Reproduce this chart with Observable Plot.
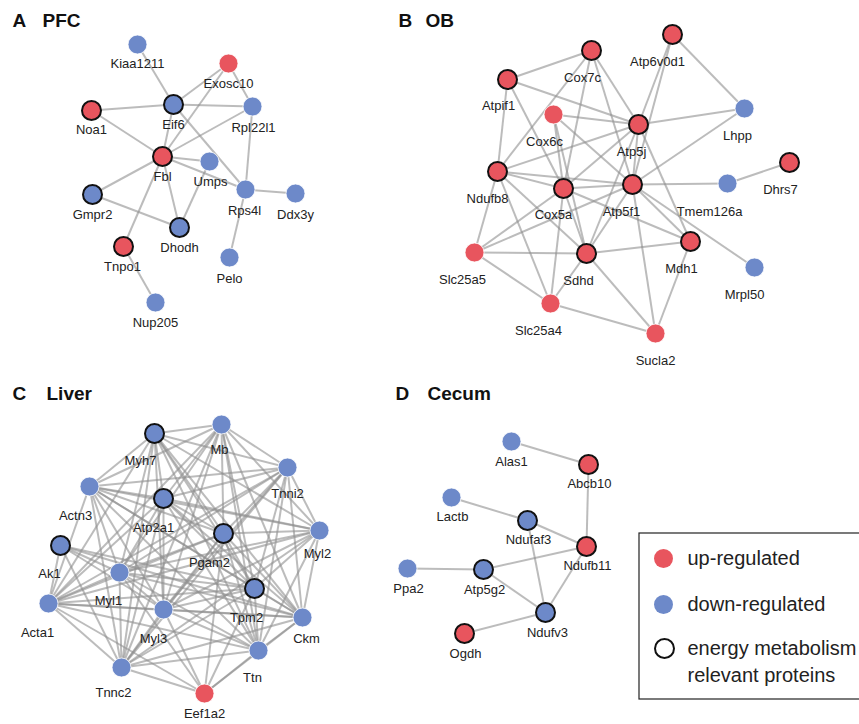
<!DOCTYPE html>
<html><head><meta charset="utf-8">
<script src="https://cdn.jsdelivr.net/npm/d3@7"></script>
<script src="https://cdn.jsdelivr.net/npm/@observablehq/plot@0.6"></script>
<style>body{margin:0;background:#fff;} svg{display:block}</style>
</head><body><div id="chart"></div>
<script>
// Node tables: [name, x, y, regulation, energy-relevant, labelX, labelY] (layout units)
const nodesPFC = [
  ["Kiaa1211",137,44,"down",false,137,63],
  ["Exosc10",228,63,"up",false,228,83],
  ["Noa1",91,110,"up",true,91,129],
  ["Eif6",173,104,"down",true,173,124],
  ["Rpl22l1",252,106,"down",false,253,127],
  ["Fbl",162,156,"up",true,162,176],
  ["Umps",209,161,"down",false,210,181],
  ["Rps4l",245,189,"down",false,244,210],
  ["Ddx3y",295,193,"down",false,295,214],
  ["Gmpr2",92,194,"down",true,92,214],
  ["Dhodh",179,227,"down",true,179,247],
  ["Tnpo1",123,246,"up",true,122,266],
  ["Pelo",229,257,"down",false,229,278],
  ["Nup205",155,302,"down",false,155,322]
];
const edgesPFC = [
  ["Kiaa1211","Eif6"],["Exosc10","Eif6"],["Exosc10","Rpl22l1"],["Exosc10","Fbl"],
  ["Noa1","Eif6"],["Noa1","Fbl"],["Eif6","Rpl22l1"],["Eif6","Fbl"],["Eif6","Rps4l"],
  ["Fbl","Rpl22l1"],["Fbl","Umps"],["Fbl","Rps4l"],["Fbl","Gmpr2"],["Fbl","Dhodh"],
  ["Fbl","Tnpo1"],["Umps","Dhodh"],["Gmpr2","Dhodh"],["Rpl22l1","Rps4l"],
  ["Rps4l","Ddx3y"],["Rps4l","Pelo"],["Tnpo1","Nup205"]
];

const nodesOB = [
  ["Atp6v0d1",672,34,"up",true,657,61],
  ["Cox7c",591,50,"up",true,582,77],
  ["Atpif1",507,79,"up",true,498,105],
  ["Cox6c",553,114,"up",false,544,141],
  ["Atp5j",638,124,"up",true,631,151],
  ["Lhpp",744,108,"down",false,737,135],
  ["Dhrs7",789,162,"up",true,780,189],
  ["Ndufb8",497,171,"up",true,487,198],
  ["Cox5a",563,188,"up",true,553,214],
  ["Atp5f1",632,184,"up",true,621,211],
  ["Tmem126a",727,183,"down",false,709,211],
  ["Slc25a5",474,252,"up",false,462,279],
  ["Sdhd",586,253,"up",true,578,280],
  ["Mdh1",690,241,"up",true,681,268],
  ["Mrpl50",754,267,"down",false,744,294],
  ["Slc25a4",550,303,"up",false,538,330],
  ["Sucla2",655,333,"up",false,655,360]
];
const edgesOB = [
  ["Atpif1","Cox7c"],["Atpif1","Atp5j"],["Atpif1","Ndufb8"],["Atpif1","Cox5a"],
  ["Cox7c","Ndufb8"],["Cox7c","Cox5a"],["Cox7c","Atp5j"],["Cox7c","Atp5f1"],
  ["Atp6v0d1","Atp5j"],["Atp6v0d1","Atp5f1"],["Atp6v0d1","Lhpp"],
  ["Lhpp","Atp5j"],["Lhpp","Atp5f1"],
  ["Cox6c","Atp5j"],["Cox6c","Cox5a"],["Cox6c","Atp5f1"],["Cox6c","Sdhd"],
  ["Ndufb8","Atp5j"],["Ndufb8","Cox5a"],["Ndufb8","Atp5f1"],["Ndufb8","Slc25a5"],
  ["Ndufb8","Slc25a4"],["Ndufb8","Sdhd"],
  ["Cox5a","Atp5j"],["Cox5a","Atp5f1"],["Cox5a","Sdhd"],["Cox5a","Slc25a5"],
  ["Cox5a","Slc25a4"],["Cox5a","Mdh1"],
  ["Atp5j","Atp5f1"],["Atp5j","Sdhd"],["Atp5j","Mdh1"],
  ["Atp5f1","Sdhd"],["Atp5f1","Mdh1"],["Atp5f1","Tmem126a"],["Atp5f1","Mrpl50"],
  ["Atp5f1","Slc25a5"],["Atp5f1","Sucla2"],
  ["Tmem126a","Dhrs7"],
  ["Sdhd","Slc25a5"],["Sdhd","Mdh1"],["Sdhd","Sucla2"],["Sdhd","Slc25a4"],
  ["Slc25a5","Slc25a4"],["Slc25a4","Sucla2"],["Mdh1","Sucla2"]
];

const nodesLiver = [
  ["Myh7",154,433,"down",true,140,460],
  ["Mb",221,424,"down",false,219,449],
  ["Tnni2",287,467,"down",false,287,493],
  ["Actn3",89,486,"down",false,75,515],
  ["Atp2a1",163,498,"down",true,153,527],
  ["Pgam2",223,533,"down",true,209,562],
  ["Myl2",319,530,"down",false,317,553],
  ["Ak1",60,545,"down",true,49,573],
  ["Myl1",119,572,"down",false,108,600],
  ["Tpm2",254,588,"down",true,246,617],
  ["Acta1",48,603,"down",false,37,632],
  ["Myl3",163,609,"down",false,153,638],
  ["Ckm",302,617,"down",false,306,638],
  ["Ttn",258,650,"down",false,252,677],
  ["Tnnc2",121,667,"down",false,113,692],
  ["Eef1a2",204,693,"up",false,204,713]
];
const edgesLiver = [
  ["Myh7","Mb"],["Myh7","Tnni2"],["Myh7","Actn3"],["Myh7","Atp2a1"],["Myh7","Pgam2"],["Myh7","Myl2"],["Myh7","Myl1"],["Myh7","Tpm2"],["Myh7","Acta1"],["Myh7","Myl3"],["Myh7","Ckm"],["Myh7","Ttn"],["Myh7","Tnnc2"],
  ["Mb","Tnni2"],["Mb","Actn3"],["Mb","Atp2a1"],["Mb","Pgam2"],["Mb","Myl2"],["Mb","Myl1"],["Mb","Tpm2"],["Mb","Acta1"],["Mb","Myl3"],["Mb","Ckm"],["Mb","Ttn"],["Mb","Tnnc2"],
  ["Tnni2","Actn3"],["Tnni2","Atp2a1"],["Tnni2","Pgam2"],["Tnni2","Myl2"],["Tnni2","Myl1"],["Tnni2","Tpm2"],["Tnni2","Acta1"],["Tnni2","Myl3"],["Tnni2","Ckm"],["Tnni2","Ttn"],["Tnni2","Tnnc2"],
  ["Actn3","Atp2a1"],["Actn3","Pgam2"],["Actn3","Myl2"],["Actn3","Myl1"],["Actn3","Tpm2"],["Actn3","Acta1"],["Actn3","Myl3"],["Actn3","Ckm"],["Actn3","Ttn"],["Actn3","Tnnc2"],
  ["Atp2a1","Pgam2"],["Atp2a1","Myl2"],["Atp2a1","Myl1"],["Atp2a1","Tpm2"],["Atp2a1","Acta1"],["Atp2a1","Myl3"],["Atp2a1","Ckm"],["Atp2a1","Ttn"],["Atp2a1","Tnnc2"],
  ["Pgam2","Myl2"],["Pgam2","Myl1"],["Pgam2","Tpm2"],["Pgam2","Acta1"],["Pgam2","Myl3"],["Pgam2","Ckm"],["Pgam2","Ttn"],["Pgam2","Tnnc2"],
  ["Myl2","Myl1"],["Myl2","Tpm2"],["Myl2","Acta1"],["Myl2","Myl3"],["Myl2","Ckm"],["Myl2","Ttn"],["Myl2","Tnnc2"],
  ["Ak1","Myl1"],["Ak1","Tpm2"],["Ak1","Acta1"],["Ak1","Tnnc2"],["Ak1","Ckm"],["Ak1","Myl3"],
  ["Myl1","Tpm2"],["Myl1","Acta1"],["Myl1","Myl3"],["Myl1","Ckm"],["Myl1","Ttn"],["Myl1","Tnnc2"],
  ["Tpm2","Acta1"],["Tpm2","Myl3"],["Tpm2","Ckm"],["Tpm2","Ttn"],["Tpm2","Tnnc2"],
  ["Acta1","Myl3"],["Acta1","Ckm"],["Acta1","Ttn"],["Acta1","Tnnc2"],
  ["Myl3","Ckm"],["Myl3","Ttn"],["Myl3","Tnnc2"],
  ["Ckm","Ttn"],["Ckm","Tnnc2"],["Ttn","Tnnc2"],
  ["Eef1a2","Ttn"],["Eef1a2","Tnnc2"],["Eef1a2","Myl3"],["Eef1a2","Myl1"],["Eef1a2","Tpm2"],["Eef1a2","Ckm"],["Eef1a2","Pgam2"],["Eef1a2","Acta1"]
];

const nodesCecum = [
  ["Alas1",511,441,"down",false,511,461],
  ["Abcb10",588,464,"up",true,589,483],
  ["Lactb",451,497,"down",false,452,516],
  ["Ndufaf3",527,520,"down",true,528,539],
  ["Ndufb11",586,546,"up",true,587,565],
  ["Ppa2",407,568,"down",false,408,588],
  ["Atp5g2",483,569,"down",true,484,589],
  ["Ndufv3",545,612,"down",true,547,632],
  ["Ogdh",464,633,"up",true,465,653]
];
const edgesCecum = [
  ["Alas1","Abcb10"],["Abcb10","Ndufb11"],["Lactb","Ndufaf3"],["Ndufaf3","Ndufb11"],
  ["Ndufaf3","Ndufv3"],["Ndufb11","Atp5g2"],["Ndufb11","Ndufv3"],["Ppa2","Atp5g2"],
  ["Atp5g2","Ndufv3"],["Ogdh","Ndufv3"]
];

const panelLetters = ["A","B","C","D"];
const panelNames = ["PFC","OB","Liver","Cecum"];
const panelLetterX = [12,398,12,395];
const panelNameX = [42,425,46,427];
const panelY = [20,20,393,393];

const legendLabels = ["up-regulated","down-regulated","energy metabolism","relevant proteins"];

// ---- build tables ----
const RED = "#E8555E", BLUE = "#6D89C9";
const allNodeTables = [nodesPFC, nodesOB, nodesLiver, nodesCecum];
const allEdgeTables = [edgesPFC, edgesOB, edgesLiver, edgesCecum];
const nodes = [], links = [];
allNodeTables.forEach((tbl, i) => {
  const map = new Map();
  tbl.forEach(([id,x,y,reg,energy,lx,ly]) => {
    const n = {id,x,y,reg,energy,lx,ly,panel:i};
    map.set(id,n); nodes.push(n);
  });
  allEdgeTables[i].forEach(([a,b]) => {
    const s = map.get(a), t = map.get(b);
    links.push({x1:s.x,y1:s.y,x2:t.x,y2:t.y});
  });
});
const titles = panelLetters.map((l,i)=>({letter:l,name:panelNames[i],lx:panelLetterX[i],nx:panelNameX[i],y:panelY[i]}));

const legendBox = [{x1:639,x2:900,y1:533,y2:699}];
const legendItems = [
  {kind:"up", x:663, y:558, tx:687, ty:558, label:legendLabels[0]},
  {kind:"down", x:663, y:604, tx:687, ty:604, label:legendLabels[1]},
  {kind:"energy", x:664, y:648, tx:687, ty:648, label:legendLabels[2]}
];
const legendExtra = [{tx:687, ty:675, label:legendLabels[3]}];

const font = "Liberation Sans, Arial, Helvetica, sans-serif";

const chart = Plot.plot({
  width: 859, height: 724, margin: 0,
  style: {fontFamily: font, background: "#fff"},
  x: {domain:[0,859], range:[0,859], axis:null},
  y: {domain:[0,724], range:[0,724], axis:null},
  marks: [
    Plot.link(links, {x1:"x1",y1:"y1",x2:"x2",y2:"y2", stroke:"#8f8f8f", strokeOpacity:0.6, strokeWidth:2}),
    Plot.dot(nodes, {x:"x", y:"y", r:9.5, fill:d=>d.reg==="up"?RED:BLUE,
      stroke:d=>d.energy?"#111":"white", strokeWidth:d=>d.energy?2:0.8}),
    Plot.text(nodes, {x:"lx", y:"ly", text:"id", fontSize:13, fill:"#222"}),
    Plot.text(titles, {x:"lx", y:"y", text:"letter", fontSize:19, fontWeight:"bold", textAnchor:"start", fill:"#111"}),
    Plot.text(titles, {x:"nx", y:"y", text:"name", fontSize:19, fontWeight:"bold", textAnchor:"start", fill:"#111"}),
    Plot.rect(legendBox, {x1:"x1",x2:"x2",y1:"y1",y2:"y2", fill:"none", stroke:"#222", strokeWidth:1.2, clip:true}),
    Plot.dot(legendItems, {x:"x", y:"y", r:9.5,
      fill:d=>d.kind==="up"?RED:d.kind==="down"?BLUE:"white",
      stroke:d=>d.kind==="energy"?"#111":"none", strokeWidth:2}),
    Plot.text(legendItems, {x:"tx", y:"ty", text:"label", fontSize:20, textAnchor:"start", fill:"#222"}),
    Plot.text(legendExtra, {x:"tx", y:"ty", text:"label", fontSize:20, textAnchor:"start", fill:"#222"})
  ]
});
document.getElementById("chart").appendChild(chart);
</script>
</body></html>
